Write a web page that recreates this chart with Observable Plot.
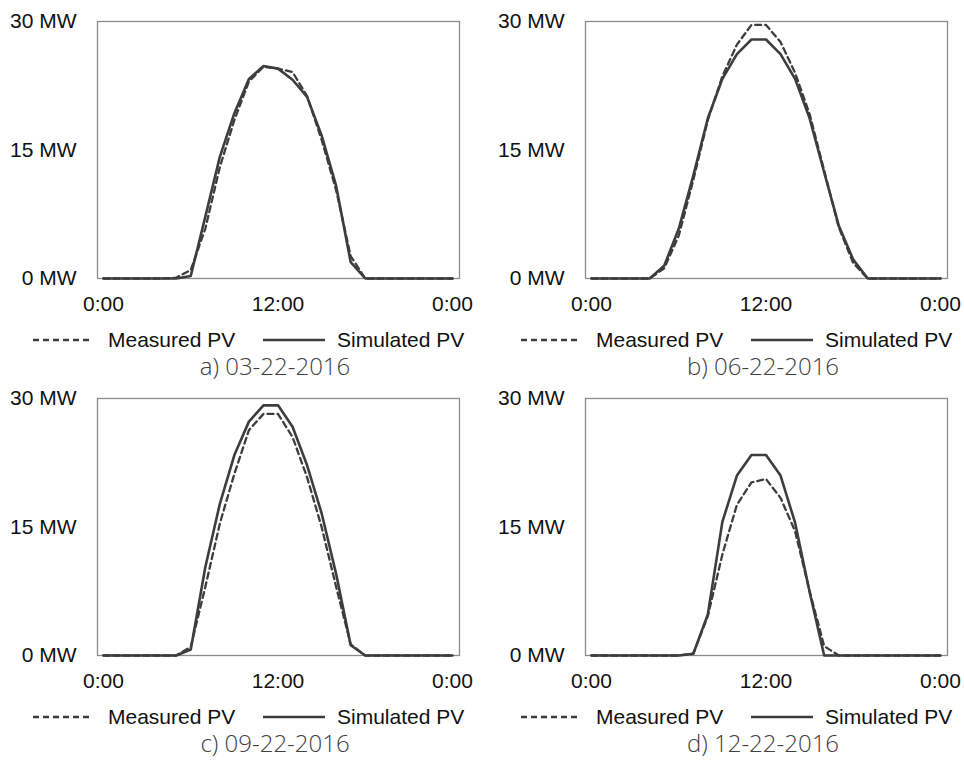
<!DOCTYPE html>
<html><head><meta charset="utf-8">
<script src="https://cdn.jsdelivr.net/npm/d3@7"></script>
<script src="https://cdn.jsdelivr.net/npm/@observablehq/plot@0.6"></script>
<style>
body{margin:0;background:#fff;width:964px;height:762px;overflow:hidden;position:relative;}
.panel{position:absolute;width:480px;height:385px;}
.panel > svg{position:absolute;left:0;}
</style>
</head><body>
<script>
// ---- data ----
const hours = [0,1,2,3,4,5,6,7,8,9,10,11,12,13,14,15,16,17,18,19,20,21,22,23,24];
const xTicks = [0, 12, 24];
const xTickLabels = ["0:00", "12:00", "0:00"];
const yTicks = [0, 15, 30];
const yTickLabels = ["0 MW", "15 MW", "30 MW"];
const seriesNames = ["Measured PV", "Simulated PV"];
const captions = ["a) 03-22-2016", "b) 06-22-2016", "c) 09-22-2016", "d) 12-22-2016"];

const measuredA  = [0,0,0,0,0,0.1,1.0,5.8,13.0,18.5,23.0,24.7,24.5,24.1,21.3,16.2,10.3,2.6,0,0,0,0,0,0,0];
const simulatedA = [0,0,0,0,0,0,0.3,7.2,14.2,19.3,23.3,24.8,24.5,23.2,21.2,16.7,10.8,1.9,0,0,0,0,0,0,0];
const measuredB  = [0,0,0,0,0,1.2,5.0,11.5,18.5,23.6,27.3,29.6,29.6,27.6,24.0,19.2,12.6,6.0,1.8,0,0,0,0,0,0];
const simulatedB = [0,0,0,0,0,1.5,5.8,12.0,18.7,23.3,26.2,27.9,27.9,26.2,23.3,18.7,12.4,6.2,2.2,0,0,0,0,0,0];
const measuredC  = [0,0,0,0,0,0,1.0,8.0,15.4,21.2,26.3,28.2,28.2,25.5,20.8,15.0,8.0,1.3,0,0,0,0,0,0,0];
const simulatedC = [0,0,0,0,0,0,0.7,10.3,17.7,23.4,27.3,29.2,29.2,26.7,22.2,16.6,9.5,1.2,0,0,0,0,0,0,0];
const measuredD  = [0,0,0,0,0,0,0,0.2,4.6,11.8,17.6,20.2,20.6,18.4,14.5,7.5,1.1,0,0,0,0,0,0,0,0];
const simulatedD = [0,0,0,0,0,0,0,0.2,4.8,15.6,21.0,23.4,23.4,21.0,15.5,7.4,0,0,0,0,0,0,0,0,0];

const panels = [
  {left: 0,   top: 0,   measured: measuredA, simulated: simulatedA, caption: captions[0]},
  {left: 488, top: 0,   measured: measuredB, simulated: simulatedB, caption: captions[1]},
  {left: 0,   top: 377, measured: measuredC, simulated: simulatedC, caption: captions[2]},
  {left: 488, top: 377, measured: measuredD, simulated: simulatedD, caption: captions[3]}
];

const FONT = "'Liberation Sans', Arial, sans-serif";
const LINE = "#3d3d3d";

for (const p of panels) {
  const div = document.createElement("div");
  div.className = "panel";
  div.style.left = p.left + "px";
  div.style.top = p.top + "px";
  document.body.appendChild(div);

  const mRows = hours.map((h, i) => ({hour: h, mw: p.measured[i]}));
  const sRows = hours.map((h, i) => ({hour: h, mw: p.simulated[i]}));

  const chart = Plot.plot({
    width: 480, height: 322,
    marginLeft: 97, marginRight: 21, marginTop: 21, marginBottom: 44,
    x: {domain: [0, 24], insetLeft: 6, insetRight: 7},
    y: {domain: [0, 30]},
    style: {fontFamily: FONT, fontSize: "21px", color: "#111", background: "transparent", overflow: "visible"},
    marks: [
      Plot.frame({stroke: "#8a8a8a", strokeWidth: 1.3}),
      Plot.axisY({ticks: yTicks, tickFormat: d => yTickLabels[yTicks.indexOf(d)], tickSize: 0, tickPadding: 21, label: null}),
      Plot.axisX({ticks: xTicks, tickFormat: d => xTickLabels[xTicks.indexOf(d)], tickSize: 0, tickPadding: 18, label: null}),
      Plot.line(mRows, {x: "hour", y: "mw", stroke: LINE, strokeWidth: 2.3, strokeDasharray: "6,4"}),
      Plot.line(sRows, {x: "hour", y: "mw", stroke: LINE, strokeWidth: 2.6})
    ]
  });
  chart.style.top = "0px";
  div.appendChild(chart);

  // legend + caption below the plot
  const svg = d3.create("svg").attr("width", 480).attr("height", 62)
    .style("position", "absolute").style("left", "0px").style("top", "322px");
  svg.append("line").attr("x1", 33).attr("x2", 92).attr("y1", 18).attr("y2", 18)
    .attr("stroke", LINE).attr("stroke-width", 2.3).attr("stroke-dasharray", "6,4");
  svg.append("text").attr("x", 108).attr("y", 25).text(seriesNames[0])
    .attr("font-family", FONT).attr("font-size", 21).attr("fill", "#111");
  svg.append("line").attr("x1", 263).attr("x2", 325).attr("y1", 18).attr("y2", 18)
    .attr("stroke", LINE).attr("stroke-width", 2.6);
  svg.append("text").attr("x", 337).attr("y", 25).text(seriesNames[1])
    .attr("font-family", FONT).attr("font-size", 21).attr("fill", "#111");
  svg.append("text").attr("x", 275).attr("y", 53).attr("text-anchor", "middle").text(p.caption)
    .attr("font-family", "'Open Sans', 'Noto Sans', sans-serif").attr("font-weight", 300)
    .attr("font-size", 24).attr("fill", "#404040");
  div.appendChild(svg.node());
}
</script>
</body></html>
